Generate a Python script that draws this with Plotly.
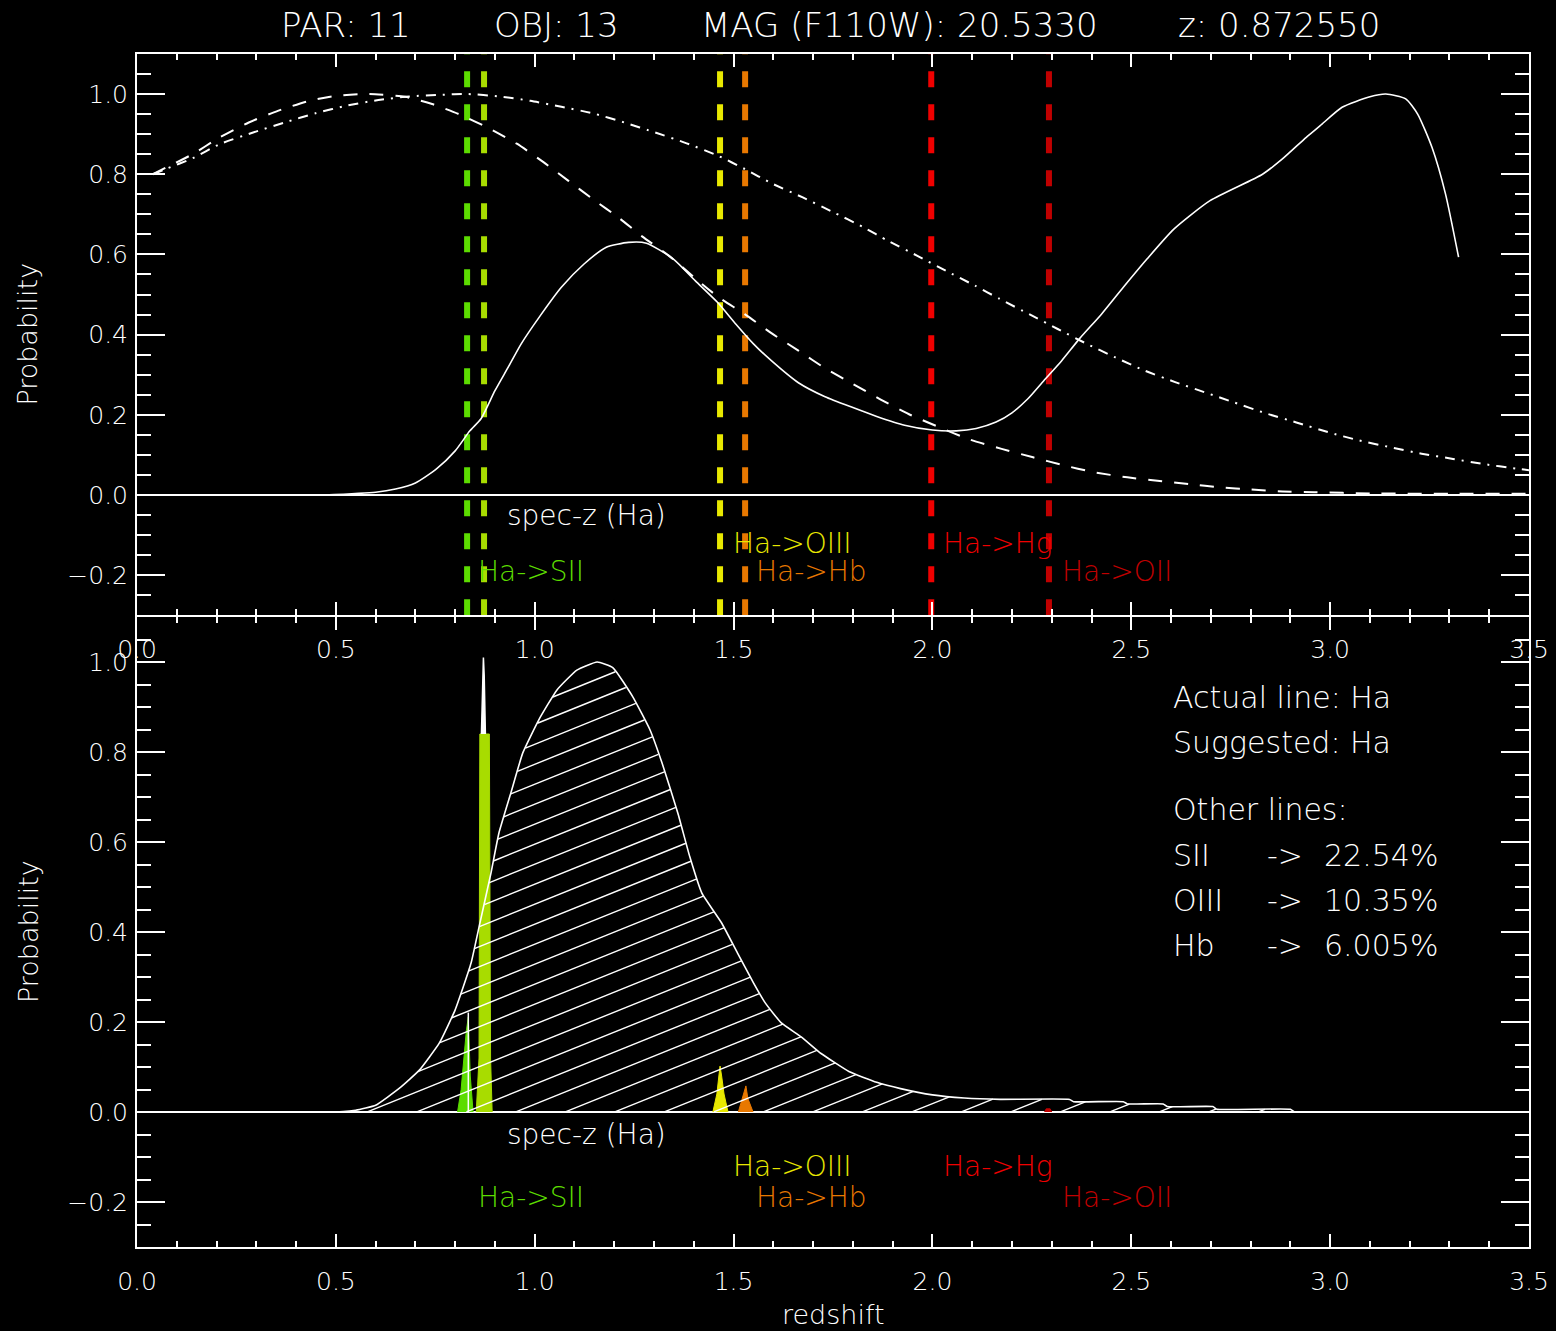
import numpy as np
import plotly.graph_objects as go

# ---------------- data ----------------
# Top panel: probability curves vs redshift
solid_z = [0.47, 0.60, 0.65, 0.70, 0.753, 0.80, 0.837, 0.865, 0.90, 0.933, 0.966, 1.011,
           1.067, 1.124, 1.18, 1.236, 1.281, 1.348, 1.404, 1.46, 1.506, 1.55, 1.595, 1.663,
           1.73, 1.80, 1.86, 1.93, 2.00, 2.06, 2.11, 2.16, 2.20, 2.24, 2.28, 2.325, 2.37,
           2.425, 2.48, 2.54, 2.607, 2.698, 2.83, 2.88, 2.94, 2.975, 3.03, 3.10, 3.14,
           3.19, 3.22, 3.256, 3.29, 3.323]
solid_p = [0.0, 0.007, 0.015, 0.03, 0.065, 0.11, 0.16, 0.19, 0.26, 0.318, 0.377, 0.443,
           0.518, 0.576, 0.618, 0.63, 0.628, 0.589, 0.534, 0.48, 0.426, 0.377, 0.335, 0.28,
           0.245, 0.218, 0.196, 0.174, 0.162, 0.16, 0.166, 0.182, 0.205, 0.24, 0.285, 0.335, 0.39,
           0.451, 0.518, 0.589, 0.663, 0.734, 0.80, 0.838, 0.892, 0.921, 0.967, 0.993, 1.0,
           0.988, 0.95, 0.867, 0.751, 0.593]

dashed_z = [0.04, 0.07, 0.14, 0.208, 0.281, 0.354, 0.433, 0.506, 0.584, 0.674, 0.742, 0.809,
            0.888, 0.955, 1.022, 1.084, 1.146, 1.213, 1.27, 1.337, 1.404, 1.461, 1.528, 1.596,
            1.663, 1.73, 1.80, 1.87, 1.94, 2.017, 2.095, 2.174, 2.253, 2.326, 2.405, 2.49,
            2.56, 2.646, 2.725, 2.80, 2.88, 2.96, 3.10, 3.30, 3.50]
dashed_p = [0.80, 0.815, 0.85, 0.892, 0.929, 0.958, 0.983, 0.996, 1.0, 0.993, 0.975, 0.95,
            0.913, 0.876, 0.83, 0.784, 0.738, 0.69, 0.645, 0.597, 0.540, 0.494, 0.451, 0.403,
            0.36, 0.316, 0.277, 0.238, 0.202, 0.169, 0.138, 0.115, 0.094, 0.075, 0.057, 0.044,
            0.036, 0.027, 0.019, 0.014, 0.009, 0.007, 0.004, 0.003, 0.003]

dashdot_z = [0.04, 0.07, 0.14, 0.208, 0.292, 0.371, 0.449, 0.528, 0.607, 0.685, 0.764, 0.831,
             0.91, 0.989, 1.067, 1.146, 1.225, 1.303, 1.382, 1.461, 1.528, 1.596, 1.674, 1.747,
             1.826, 1.888, 1.961, 2.034, 2.107, 2.169, 2.247, 2.315, 2.388, 2.46, 2.534, 2.612,
             2.691, 2.758, 2.837, 2.915, 2.994, 3.073, 3.152, 3.23, 3.309, 3.387, 3.466, 3.50]
dashdot_p = [0.80, 0.812, 0.84, 0.875, 0.904, 0.929, 0.952, 0.971, 0.985, 0.994, 0.998, 1.0,
             0.994, 0.983, 0.968, 0.952, 0.929, 0.904, 0.877, 0.846, 0.813, 0.777, 0.742, 0.707,
             0.668, 0.634, 0.597, 0.559, 0.522, 0.489, 0.449, 0.414, 0.377, 0.343, 0.31, 0.281,
             0.254, 0.231, 0.204, 0.181, 0.157, 0.136, 0.119, 0.103, 0.09, 0.077, 0.066, 0.062]

# Candidate line redshifts
line_names = ["SII", "Ha", "OIII", "Hb", "Hg", "OII"]
line_z = [0.830, 0.8726, 1.466, 1.529, 1.997, 2.293]
line_labels = ["Ha->SII", "spec-z (Ha)", "Ha->OIII", "Ha->Hb", "Ha->Hg", "Ha->OII"]

# Bottom panel: combined redshift PDF
pdf_z = [0.50, 0.55, 0.60, 0.66, 0.71, 0.76, 0.80, 0.84, 0.86, 0.89, 0.91, 0.94, 0.97, 1.01,
         1.056, 1.106, 1.157, 1.197, 1.247, 1.29, 1.32, 1.36, 1.39, 1.42, 1.47, 1.51, 1.55,
         1.58, 1.62, 1.67, 1.72, 1.79, 1.86, 1.92, 2.00, 2.08, 2.17, 2.345, 2.355, 2.48, 2.49,
         2.58, 2.59, 2.705, 2.715, 2.90, 2.91]
pdf_p = [0.0, 0.004, 0.015, 0.053, 0.093, 0.153, 0.227, 0.331, 0.411, 0.531, 0.62, 0.709,
         0.798, 0.871, 0.938, 0.982, 1.0, 0.987, 0.922, 0.849, 0.776, 0.664, 0.567, 0.487,
         0.42, 0.353, 0.287, 0.242, 0.198, 0.167, 0.13, 0.09, 0.066, 0.052, 0.038, 0.031,
         0.028, 0.028, 0.023, 0.023, 0.018, 0.018, 0.012, 0.012, 0.006, 0.006, 0.0]

# Per-line probability peaks in the bottom panel
sii_z = [0.806, 0.815, 0.822, 0.828, 0.833, 0.838, 0.845]
sii_p = [0.0, 0.05, 0.12, 0.18, 0.211, 0.08, 0.0]
ha_z = [0.853, 0.860, 0.862, 0.886, 0.889, 0.893]
ha_p = [0.0, 0.12, 0.84, 0.84, 0.12, 0.0]
ha_top_z = [0.866, 0.869, 0.871, 0.873, 0.876]
ha_top_p = [0.84, 0.97, 1.01, 0.97, 0.84]
oiii_z = [1.448, 1.458, 1.463, 1.466, 1.470, 1.476, 1.486]
oiii_p = [0.0, 0.04, 0.08, 0.102, 0.08, 0.04, 0.0]
hb_z = [1.512, 1.522, 1.528, 1.531, 1.536, 1.549]
hb_p = [0.0, 0.03, 0.05, 0.058, 0.03, 0.0]
oii_z = [2.282, 2.286, 2.296, 2.300]
oii_p = [0.0, 0.007, 0.007, 0.0]

# Header values
par_id, obj_id, mag_f110w, spec_z = 11, 13, 20.5330, 0.872550
actual_line, suggested_line = "Ha", "Ha"
other_lines = ["SII", "OIII", "Hb"]
other_pct = ["22.54%", "10.35%", "6.005%"]

# ---------------- layout constants ----------------
FIG_W, FIG_H = 1556, 1331
X_DOM = [137 / FIG_W, 1529 / FIG_W]
TOP_DOM = [1 - 615.3 / FIG_H, 1 - 53.9 / FIG_H]
BOT_DOM = [1 - 1247 / FIG_H, 1 - 617 / FIG_H]
Z_RANGE = [0.0, 3.5]
P_RANGE = [-0.3, 1.1]
FONT = "DejaVu Sans"
FW = 200  # light strokes
WHITE = "#ffffff"
line_colors = {"SII": "#5cdc00", "Ha": "#a8dc00", "OIII": "#e8e800",
               "Hb": "#e87800", "Hg": "#f00000", "OII": "#c00000"}
label_row = {"SII": -0.19, "Ha": -0.05, "OIII": -0.12, "Hb": -0.19, "Hg": -0.12, "OII": -0.19}
label_dx = {"SII": 0.022, "Ha": 0.052, "OIII": 0.027, "Hb": 0.022, "Hg": 0.025, "OII": 0.027}


def hatch_lines(xs, ys, px_x, px_y, angle_deg=22.0, spacing=20.0):
    """Diagonal hatching clipped to the area between 0 and the curve."""
    xs = np.asarray(xs, float)
    ys = np.asarray(ys, float)
    t = np.tan(np.radians(angle_deg))
    u = np.arange(xs[0] * px_x, xs[-1] * px_x, 0.5)
    f = np.interp(u / px_x, xs, ys) * px_y
    hx, hy = [], []
    c = np.floor(-t * u[-1] / spacing) * spacing + 7.0
    while c < f.max():
        v = t * u + c
        inside = (v >= 0) & (v <= f)
        edges = np.flatnonzero(np.diff(np.concatenate(([0], inside.astype(int), [0]))))
        for s, e in zip(edges[::2], edges[1::2] - 1):
            if e > s:
                hx += [u[s] / px_x, u[e] / px_x, None]
                hy += [v[s] / px_y, v[e] / px_y, None]
        c += spacing
    return hx, hy


fig = go.Figure()

# ---- top panel ----
for name, z in zip(line_names, line_z):
    fig.add_trace(go.Scatter(x=[z, z], y=P_RANGE, mode="lines", xaxis="x", yaxis="y",
                             line=dict(color=line_colors[name], width=6, dash="16px,17px")))

fig.add_trace(go.Scatter(x=dashed_z, y=dashed_p, mode="lines", xaxis="x", yaxis="y",
                         line=dict(color=WHITE, width=2, dash="14px,12px",
                                   shape="spline", smoothing=0.6)))
fig.add_trace(go.Scatter(x=dashdot_z, y=dashdot_p, mode="lines", xaxis="x", yaxis="y",
                         line=dict(color=WHITE, width=2, dash="10px,7px,2px,7px",
                                   shape="spline", smoothing=0.6)))
fig.add_trace(go.Scatter(x=solid_z, y=solid_p, mode="lines", xaxis="x", yaxis="y",
                         line=dict(color=WHITE, width=1.6, shape="spline", smoothing=0.6)))

# ---- bottom panel ----
peaks = [("SII", sii_z, sii_p), ("Ha", ha_z, ha_p), ("OIII", oiii_z, oiii_p),
         ("Hb", hb_z, hb_p), ("OII", oii_z, oii_p)]
for name, zz, pp in peaks:
    fig.add_trace(go.Scatter(x=zz, y=pp, mode="lines", fill="toself", xaxis="x2", yaxis="y2",
                             fillcolor=line_colors[name],
                             line=dict(color=line_colors[name], width=1)))
fig.add_trace(go.Scatter(x=ha_top_z, y=ha_top_p, mode="lines", fill="toself",
                         fillcolor=WHITE, xaxis="x2", yaxis="y2",
                         line=dict(color=WHITE, width=1.5)))
fig.add_trace(go.Scatter(x=[sii_z[4], sii_z[4]], y=[0, sii_p[4] + 0.01], mode="lines",
                         xaxis="x2", yaxis="y2", line=dict(color=WHITE, width=1.5)))

px_per_z = (X_DOM[1] - X_DOM[0]) * FIG_W / (Z_RANGE[1] - Z_RANGE[0])
px_per_p = (BOT_DOM[1] - BOT_DOM[0]) * FIG_H / (P_RANGE[1] - P_RANGE[0])
hx, hy = hatch_lines(pdf_z, pdf_p, px_per_z, px_per_p)
fig.add_trace(go.Scatter(x=hx, y=hy, mode="lines", xaxis="x2", yaxis="y2",
                         line=dict(color=WHITE, width=1.4), connectgaps=False))
fig.add_trace(go.Scatter(x=pdf_z, y=pdf_p, mode="lines", xaxis="x2", yaxis="y2",
                         line=dict(color=WHITE, width=1.6, shape="spline", smoothing=0.4)))

# ---- axes ----
def x_axis(anchor):
    return dict(domain=X_DOM, range=Z_RANGE, anchor=anchor, automargin=False,
                showgrid=False, zeroline=False,
                showline=True, linecolor=WHITE, linewidth=2, mirror="ticks",
                ticks="inside", ticklen=13, tickwidth=2, tickcolor=WHITE,
                tick0=0, dtick=0.5, tickformat=".1f", ticklabelstandoff=11,
                tickfont=dict(family=FONT, size=25, color=WHITE, weight=FW),
                minor=dict(dtick=0.1, ticklen=6, tickwidth=1.5, tickcolor=WHITE, ticks="inside"))


def y_axis(domain, anchor):
    return dict(domain=domain, range=P_RANGE, anchor=anchor, automargin=False,
                showgrid=False,
                zeroline=True, zerolinecolor=WHITE, zerolinewidth=2,
                showline=True, linecolor=WHITE, linewidth=2, mirror="ticks",
                ticks="inside", ticklen=28, tickwidth=2, tickcolor=WHITE,
                tick0=0, dtick=0.2, tickformat=".1f", ticklabelstandoff=2,
                tickfont=dict(family=FONT, size=25, color=WHITE, weight=FW),
                minor=dict(dtick=0.05, ticklen=14, tickwidth=1.5, tickcolor=WHITE, ticks="inside"))


annotations = []

# header
header = [f"PAR: {par_id}", f"OBJ: {obj_id}", f"MAG (F110W): {mag_f110w:.4f}", f"z: {spec_z:.6f}"]
header_x = [0.526, 1.056, 1.916, 2.872]
for txt, xx in zip(header, header_x):
    annotations.append(dict(text=txt, x=xx, xref="x", y=1 - 25 / FIG_H, yref="paper",
                            xanchor="center", yanchor="middle", showarrow=False,
                            font=dict(family=FONT, size=34, color=WHITE, weight=FW)))

# line labels in both panels
for xa, ya in (("x", "y"), ("x2", "y2")):
    for name, z, lab in zip(line_names, line_z, line_labels):
        col = WHITE if name == "Ha" else line_colors[name]
        annotations.append(dict(text=lab, x=z + label_dx[name], y=label_row[name],
                                xref=xa, yref=ya, xanchor="left", yanchor="middle",
                                showarrow=False,
                                font=dict(family=FONT, size=28, color=col, weight=FW)))

# axis titles
for dom in (TOP_DOM, BOT_DOM):
    annotations.append(dict(text="Probability", x=28 / FIG_W, y=(dom[0] + dom[1]) / 2,
                            xref="paper", yref="paper", textangle=-90, showarrow=False,
                            xanchor="center", yanchor="middle",
                            font=dict(family=FONT, size=27, color=WHITE, weight=FW)))
annotations.append(dict(text="redshift", x=(X_DOM[0] + X_DOM[1]) / 2, y=1 - 1314 / FIG_H,
                        xref="paper", yref="paper", showarrow=False,
                        xanchor="center", yanchor="middle",
                        font=dict(family=FONT, size=27, color=WHITE, weight=FW)))

# classification summary
info_font = dict(family=FONT, size=30, color=WHITE, weight=FW)
info_rows = [(f"Actual line: {actual_line}", 0.922), (f"Suggested: {suggested_line}", 0.822),
             ("Other lines:", 0.673)]
for txt, yy in info_rows:
    annotations.append(dict(text=txt, x=2.60, y=yy, xref="x2", yref="y2", xanchor="left",
                            yanchor="middle", showarrow=False, font=info_font))
for i, (nm, pct) in enumerate(zip(other_lines, other_pct)):
    yy = 0.571 - i * 0.1
    for txt, xx in ((nm, 2.60), ("->", 2.835), (pct, 2.98)):
        annotations.append(dict(text=txt, x=xx, y=yy, xref="x2", yref="y2", xanchor="left",
                                yanchor="middle", showarrow=False, font=info_font))

fig.update_layout(
    width=FIG_W, height=FIG_H, autosize=False,
    margin=dict(l=0, r=0, t=0, b=0, autoexpand=False),
    paper_bgcolor="black", plot_bgcolor="black",
    showlegend=False,
    font=dict(family=FONT, color=WHITE),
    xaxis=x_axis("y"), yaxis=y_axis(TOP_DOM, "x"),
    xaxis2=x_axis("y2"), yaxis2=y_axis(BOT_DOM, "x2"),
    annotations=annotations,
)

fig.write_html("out.html")
